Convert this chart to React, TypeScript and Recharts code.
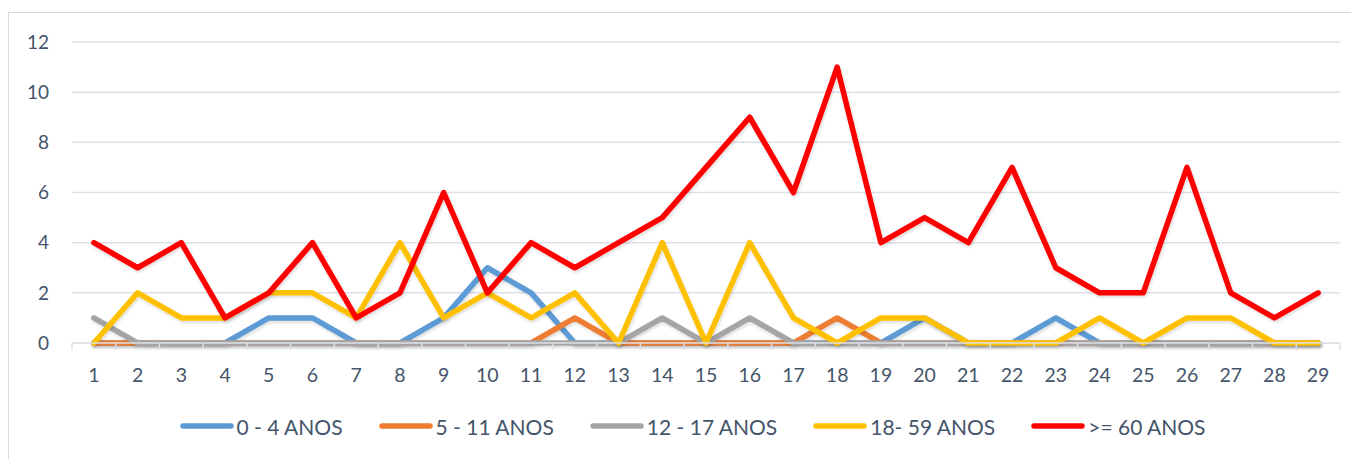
import React from 'react';
import { LineChart, Line, XAxis, YAxis, CartesianGrid, Legend } from 'recharts';

const categories = ['1','2','3','4','5','6','7','8','9','10','11','12','13','14','15','16','17','18','19','20','21','22','23','24','25','26','27','28','29'];
const age0to4 = [0,0,0,0,1,1,0,0,1,3,2,0,0,0,0,0,0,0,0,1,0,0,1,0,0,0,0,0,0];
const age5to11 = [0,0,0,0,0,0,0,0,0,0,0,1,0,0,0,0,0,1,0,0,0,0,0,0,0,0,0,0,0];
const age12to17 = [1,0,0,0,0,0,0,0,0,0,0,0,0,1,0,1,0,0,0,0,0,0,0,0,0,0,0,0,0];
const age18to59 = [0,2,1,1,2,2,1,4,1,2,1,2,0,4,0,4,1,0,1,1,0,0,0,1,0,1,1,0,0];
const age60plus = [4,3,4,1,2,4,1,2,6,2,4,3,4,5,7,9,6,11,4,5,4,7,3,2,2,7,2,1,2];
const yTicks = [0,2,4,6,8,10,12];

const seriesNames = ['0 - 4 ANOS','5 - 11 ANOS','12 - 17 ANOS','18- 59 ANOS','>= 60 ANOS'];
const seriesColors = ['#5B9BD5','#ED7D31','#A5A5A5','#FFC000','#FF0000'];
const seriesKeys = ['a','b','c','d','e'];

const data = categories.map((c, i) => ({
  cat: c,
  a: age0to4[i],
  b: age5to11[i],
  c: age12to17[i],
  d: age18to59[i],
  e: age60plus[i],
}));

const FONT = 'Lato, "Open Sans", sans-serif';
const TEXT = '#44546A';
const GRID = '#DDE1E7';

const XTick = (props: any) => {
  const { x, y, payload, index, visibleTicksCount } = props;
  const off = payload && typeof payload.offset === 'number' && payload.offset > 0 ? payload.offset : 21.86;
  const axisY = y - 25;
  const isLast = index === visibleTicksCount - 1;
  return (
    <g>
      <line x1={x - off} x2={x - off} y1={axisY} y2={axisY + 7} stroke={GRID} strokeWidth={1.5} />
      {isLast && <line x1={x + off} x2={x + off} y1={axisY} y2={axisY + 7} stroke={GRID} strokeWidth={1.5} />}
      <text x={x} y={y} dy="0.71em" textAnchor="middle" fill={TEXT} fontSize={19.5} fontFamily={FONT}>{payload.value}</text>
    </g>
  );
};

const LegendContent = () => (
  <div style={{ display: 'flex', justifyContent: 'center', alignItems: 'center', paddingLeft: 36, boxSizing: 'border-box', width: '100%', height: 30, fontFamily: FONT, fontSize: 21, color: TEXT }}>
    {seriesNames.map((n, i) => (
      <div key={n} style={{ display: 'flex', alignItems: 'center', marginRight: i < seriesNames.length - 1 ? 36 : 0 }}>
        <svg width={54} height={10} style={{ marginRight: 3 }}>
          <line x1={3} x2={51} y1={5} y2={5} stroke={seriesColors[i]} strokeWidth={5.5} strokeLinecap="round" />
        </svg>
        <span style={{ whiteSpace: 'nowrap' }}>{n}</span>
      </div>
    ))}
  </div>
);

export default function App() {
  return (
    <div style={{ marginTop: 4, width: 1351, height: 447, boxSizing: 'border-box', borderLeft: '1px solid #D9D9D9', borderTop: '1px solid #D9D9D9', background: '#fff' }}>
      <style>{`.recharts-line-curve { filter: url(#lineShadow); }`}</style>
      <svg width={0} height={0} style={{ position: 'absolute' }}>
        <defs>
          <filter id="lineShadow" filterUnits="userSpaceOnUse" x="0" y="0" width="1400" height="500">
            <feDropShadow dx="1" dy="2" stdDeviation="1.5" floodColor="#000" floodOpacity="0.14" />
          </filter>
        </defs>
      </svg>
      <LineChart width={1350} height={446} data={data} margin={{ top: 29, right: 19, left: 0, bottom: 18 }}>
        <CartesianGrid horizontal={true} vertical={false} stroke={GRID} strokeWidth={1.5} />
        <XAxis dataKey="cat" scale="band" height={68} tickLine={false} tickSize={0} tickMargin={25} axisLine={{ stroke: GRID, strokeWidth: 1.5 }} tick={<XTick />} interval={0} />
        <YAxis width={63} domain={[0, 12]} ticks={yTicks} axisLine={false} tickLine={false} tickSize={0} tickMargin={23} tick={{ fill: TEXT, fontSize: 19, fontFamily: FONT }} />
        <Legend verticalAlign="bottom" height={30} content={<LegendContent />} />
        {seriesKeys.map((k, i) => (
          <Line key={k} type="linear" dataKey={k} name={seriesNames[i]} stroke={seriesColors[i]} strokeWidth={5.5} dot={false} activeDot={false} strokeLinejoin="round" strokeLinecap="round" isAnimationActive={false} />
        ))}
      </LineChart>
    </div>
  );
}
